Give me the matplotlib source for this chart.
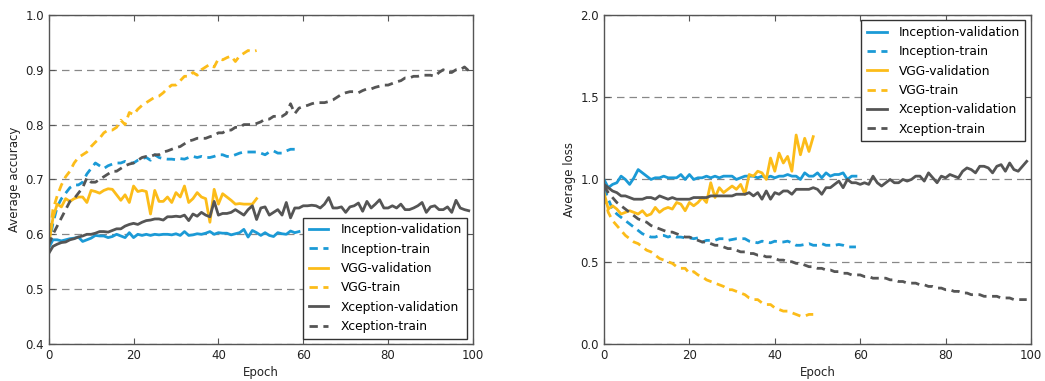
import matplotlib
matplotlib.use("Agg")
import matplotlib.pyplot as plt
import numpy as np

# ── Data ────────────────────────────────────────────────────────────────────
inc_val_acc = [0.575, 0.59, 0.59, 0.588, 0.59, 0.592, 0.593, 0.595, 0.587, 0.59,
               0.593, 0.598, 0.597, 0.597, 0.594, 0.596, 0.6, 0.597, 0.594, 0.603,
               0.594, 0.6, 0.598, 0.6, 0.598, 0.6, 0.599, 0.6, 0.6, 0.599,
               0.601, 0.598, 0.605, 0.598, 0.599, 0.601, 0.6, 0.602, 0.605, 0.6,
               0.603, 0.602, 0.602, 0.599, 0.601, 0.603, 0.609, 0.595, 0.607, 0.603,
               0.598, 0.603, 0.598, 0.596, 0.603, 0.601, 0.6, 0.606, 0.603, 0.605]
inc_train_acc = [0.58, 0.62, 0.65, 0.665, 0.675, 0.685, 0.69, 0.69, 0.695, 0.71,
                 0.72, 0.73, 0.725, 0.72, 0.725, 0.728, 0.73, 0.73, 0.733, 0.73,
                 0.73, 0.735, 0.738, 0.74, 0.735, 0.745, 0.74, 0.738, 0.737, 0.737,
                 0.736, 0.738, 0.737, 0.74, 0.742, 0.74, 0.742, 0.74, 0.74, 0.742,
                 0.745, 0.745, 0.742, 0.742, 0.745, 0.748, 0.75, 0.75, 0.75, 0.75,
                 0.748, 0.745, 0.75, 0.752, 0.748, 0.748, 0.752, 0.755, 0.755, 0.758]
vgg_val_acc = [0.58, 0.63, 0.655, 0.65, 0.665, 0.66, 0.665, 0.668, 0.668, 0.658,
               0.68, 0.678, 0.675, 0.68, 0.683, 0.682, 0.672, 0.662, 0.672, 0.658,
               0.688, 0.678, 0.68, 0.678, 0.637, 0.68, 0.66, 0.66, 0.668, 0.658,
               0.676, 0.668, 0.688, 0.658, 0.665, 0.676, 0.668, 0.665, 0.622, 0.682,
               0.655, 0.674, 0.668, 0.662, 0.655, 0.656, 0.655, 0.655, 0.655, 0.665]
vgg_train_acc = [0.58, 0.645, 0.67, 0.69, 0.705, 0.715, 0.73, 0.74, 0.745, 0.75,
                 0.76, 0.768, 0.775, 0.785, 0.79, 0.79, 0.795, 0.808, 0.80, 0.822,
                 0.818, 0.828, 0.835, 0.84, 0.845, 0.85, 0.852, 0.858, 0.866, 0.872,
                 0.872, 0.88, 0.888, 0.888, 0.895, 0.89, 0.9, 0.905, 0.91, 0.905,
                 0.92, 0.918, 0.922, 0.925, 0.915, 0.925, 0.93, 0.935, 0.933, 0.935]
xce_val_acc = [0.565, 0.578, 0.582, 0.585, 0.586, 0.59, 0.592, 0.595, 0.597, 0.6,
               0.6, 0.602, 0.605, 0.605, 0.604, 0.607, 0.61, 0.61, 0.615, 0.618,
               0.62, 0.618, 0.622, 0.625, 0.626, 0.628, 0.628, 0.626, 0.632, 0.632,
               0.633, 0.632, 0.635, 0.625, 0.637, 0.633, 0.64, 0.635, 0.632, 0.66,
               0.635, 0.638, 0.638, 0.64, 0.645, 0.64, 0.635, 0.645, 0.652, 0.627,
               0.648, 0.65, 0.635, 0.64, 0.645, 0.635, 0.658, 0.63, 0.648, 0.648,
               0.652, 0.652, 0.653, 0.652, 0.648, 0.655, 0.667, 0.648, 0.648, 0.65,
               0.64, 0.65, 0.652, 0.657, 0.642, 0.66, 0.648, 0.655, 0.663, 0.648,
               0.648, 0.652, 0.648, 0.655, 0.645, 0.645, 0.648, 0.652, 0.658, 0.64,
               0.65, 0.652, 0.645, 0.645, 0.65, 0.64, 0.662, 0.648, 0.645, 0.643]
xce_train_acc = [0.58, 0.6, 0.615, 0.63, 0.645, 0.66, 0.665, 0.675, 0.685, 0.703,
                 0.695, 0.695, 0.7, 0.705, 0.71, 0.715, 0.715, 0.72, 0.725, 0.728,
                 0.73, 0.735, 0.74, 0.742, 0.742, 0.745, 0.745, 0.75, 0.752, 0.755,
                 0.758, 0.76, 0.765, 0.77, 0.772, 0.775, 0.775, 0.775, 0.778, 0.78,
                 0.785, 0.785, 0.79, 0.79, 0.795, 0.795, 0.8, 0.8, 0.8, 0.802,
                 0.805, 0.81, 0.81, 0.815, 0.815, 0.815, 0.82, 0.838, 0.82, 0.83,
                 0.833, 0.835, 0.838, 0.84, 0.84, 0.84, 0.842, 0.845, 0.85, 0.855,
                 0.858, 0.86, 0.86, 0.858, 0.862, 0.865, 0.865, 0.868, 0.87, 0.872,
                 0.872, 0.875, 0.878, 0.88, 0.885, 0.885, 0.888, 0.888, 0.89, 0.89,
                 0.89, 0.888, 0.895, 0.9, 0.895, 0.895, 0.9, 0.9, 0.905, 0.898]

inc_val_loss = [1.0, 0.95, 0.97, 0.98, 1.02, 1.0, 0.97, 1.01, 1.06, 1.04,
                1.02, 1.0, 1.01, 1.01, 1.02, 1.01, 1.01, 1.01, 1.03, 1.0,
                1.03, 1.0, 1.01, 1.01, 1.02, 1.01, 1.02, 1.01, 1.02, 1.02,
                1.02, 1.0, 1.01, 1.02, 1.02, 1.02, 1.01, 1.02, 1.01, 1.02,
                1.01, 1.02, 1.02, 1.03, 1.02, 1.02, 1.0, 1.04, 1.02, 1.02,
                1.04, 1.01, 1.04, 1.02, 1.03, 1.03, 1.04, 1.0, 1.02, 1.02]
inc_train_loss = [0.95, 0.88, 0.82, 0.79, 0.77, 0.75, 0.73, 0.71, 0.69, 0.67,
                  0.66, 0.65, 0.65, 0.66, 0.66, 0.65, 0.66, 0.65, 0.65, 0.645,
                  0.645, 0.64, 0.645, 0.62, 0.63, 0.63, 0.63, 0.64, 0.64, 0.63,
                  0.635, 0.64, 0.64, 0.64, 0.625, 0.62, 0.615, 0.625, 0.62, 0.615,
                  0.625, 0.62, 0.62, 0.625, 0.615, 0.6, 0.6, 0.605, 0.61, 0.6,
                  0.6, 0.61, 0.6, 0.6, 0.6, 0.605, 0.6, 0.59, 0.59, 0.59]
vgg_val_loss = [0.92, 0.82, 0.84, 0.82, 0.79, 0.8, 0.81, 0.8, 0.79, 0.81,
                0.78, 0.79, 0.83, 0.8, 0.82, 0.83, 0.82, 0.86, 0.85, 0.81,
                0.86, 0.84, 0.86, 0.89, 0.86, 0.98, 0.89, 0.95, 0.92, 0.94,
                0.96, 0.94, 0.97, 0.91, 1.03, 1.02, 1.05, 1.04, 1.0, 1.13,
                1.05, 1.16, 1.1, 1.14, 1.05, 1.27, 1.15, 1.25, 1.17, 1.26]
vgg_train_loss = [0.9, 0.8, 0.75, 0.72, 0.69, 0.66, 0.64, 0.62, 0.61, 0.59,
                  0.57, 0.56, 0.54, 0.52, 0.51, 0.5, 0.49, 0.47, 0.46, 0.46,
                  0.43, 0.44, 0.42, 0.41, 0.39, 0.38, 0.37, 0.36, 0.35, 0.33,
                  0.33, 0.32, 0.31, 0.3, 0.28, 0.27, 0.27, 0.25, 0.24, 0.24,
                  0.22, 0.21, 0.2, 0.2, 0.19, 0.18, 0.17, 0.17, 0.18, 0.18]
xce_val_loss = [0.97, 0.95, 0.93, 0.92, 0.9, 0.9, 0.89, 0.88, 0.88, 0.88,
                0.89, 0.89, 0.88, 0.9, 0.89, 0.88, 0.89, 0.88, 0.88, 0.88,
                0.88, 0.89, 0.89, 0.89, 0.89, 0.9, 0.9, 0.9, 0.9, 0.9,
                0.9, 0.91, 0.91, 0.91, 0.92, 0.9, 0.92, 0.88, 0.93, 0.88,
                0.92, 0.91, 0.93, 0.93, 0.91, 0.94, 0.94, 0.94, 0.94, 0.95,
                0.94, 0.91, 0.95, 0.95, 0.97, 0.99, 0.95, 1.0, 0.98, 0.98,
                0.97, 0.98, 0.97, 1.02, 0.98, 0.96, 0.98, 1.0, 0.98, 0.98,
                1.0, 0.99, 1.0, 1.02, 1.02, 0.99, 1.04, 1.01, 0.98, 1.02,
                1.01, 1.03, 1.02, 1.01, 1.05, 1.07, 1.06, 1.04, 1.08, 1.08,
                1.07, 1.04, 1.08, 1.09, 1.05, 1.1, 1.06, 1.05, 1.08, 1.11]
xce_train_loss = [0.96, 0.92, 0.89, 0.86, 0.84, 0.82, 0.8, 0.78, 0.76, 0.75,
                  0.74, 0.72, 0.71, 0.7, 0.69, 0.68, 0.68, 0.67, 0.66, 0.65,
                  0.65, 0.64, 0.63, 0.62, 0.62, 0.61, 0.6, 0.6, 0.59, 0.58,
                  0.58, 0.57, 0.56, 0.56, 0.55, 0.55, 0.54, 0.54, 0.53, 0.53,
                  0.52, 0.51, 0.51, 0.5, 0.5, 0.49, 0.49, 0.48, 0.47, 0.47,
                  0.46, 0.46, 0.45, 0.45, 0.44, 0.44, 0.43, 0.43, 0.42, 0.42,
                  0.42, 0.41, 0.41, 0.4, 0.4, 0.4, 0.4, 0.39, 0.39, 0.38,
                  0.38, 0.37, 0.37, 0.37, 0.36, 0.36, 0.35, 0.35, 0.34, 0.34,
                  0.33, 0.33, 0.32, 0.32, 0.31, 0.31, 0.3, 0.3, 0.3, 0.29,
                  0.29, 0.29, 0.29, 0.28, 0.28, 0.28, 0.27, 0.27, 0.27, 0.27]

# ── Style ───────────────────────────────────────────────────────────────────
C_INC = "#1b9ad6"
C_VGG = "#fcbc19"
C_XCE = "#555555"
TXT = "#222222"

plt.rcParams["font.family"] = "DejaVu Sans"
plt.rcParams["font.size"] = 8.5

fig = plt.figure(figsize=(10.45, 3.81), dpi=100, facecolor="white")
ax_acc = fig.add_axes([0.0466, 0.097, 0.406, 0.864])
ax_loss = fig.add_axes([0.578, 0.097, 0.4086, 0.864])


def draw(ax, curves):
    for label, color, val, train in curves:
        ax.plot(np.arange(len(val)), val, color=color, lw=2,
                label=f"{label}-validation")
        ax.plot(np.arange(len(train)), train, color=color, lw=2,
                dashes=(3, 2), label=f"{label}-train")
    ax.set_xlim(0, 100)
    ax.set_xlabel("Epoch", color=TXT, labelpad=3)
    ax.yaxis.grid(True, ls=(0, (6, 4)), color="#888888", lw=0.9)
    ax.set_axisbelow(True)
    for s in ax.spines.values():
        s.set_color("#555555")
        s.set_linewidth(1.0)
    ax.tick_params(direction="in", colors="#555555", labelcolor=TXT,
                   top=True, right=True, length=4, labelsize=8.5)


draw(ax_acc, [
    ("Inception", C_INC, inc_val_acc, inc_train_acc),
    ("VGG", C_VGG, vgg_val_acc, vgg_train_acc),
    ("Xception", C_XCE, xce_val_acc, xce_train_acc),
])
ax_acc.set_ylim(0.4, 1.0)
ax_acc.set_yticks(np.arange(0.4, 1.01, 0.1))
ax_acc.set_yticklabels([f"{v:.1f}" for v in np.arange(0.4, 1.01, 0.1)])
ax_acc.set_ylabel("Average accuracy", color=TXT, labelpad=3)

draw(ax_loss, [
    ("Inception", C_INC, inc_val_loss, inc_train_loss),
    ("VGG", C_VGG, vgg_val_loss, vgg_train_loss),
    ("Xception", C_XCE, xce_val_loss, xce_train_loss),
])
ax_loss.set_ylim(0, 2.0)
ax_loss.set_yticks(np.arange(0, 2.01, 0.5))
ax_loss.set_yticklabels([f"{v:.1f}" for v in np.arange(0, 2.01, 0.5)])
ax_loss.set_ylabel("Average loss", color=TXT, labelpad=3)

for ax, loc in [(ax_acc, "lower right"), (ax_loss, "upper right")]:
    leg = ax.legend(loc=loc, fontsize=8.8, fancybox=False, framealpha=1,
                    edgecolor="#333333", handlelength=1.6, handletextpad=1.0,
                    borderpad=0.45, labelspacing=0.52, borderaxespad=0.45)
    leg.get_frame().set_linewidth(1.0)

fig.savefig("out.png", dpi=100, facecolor="white")
